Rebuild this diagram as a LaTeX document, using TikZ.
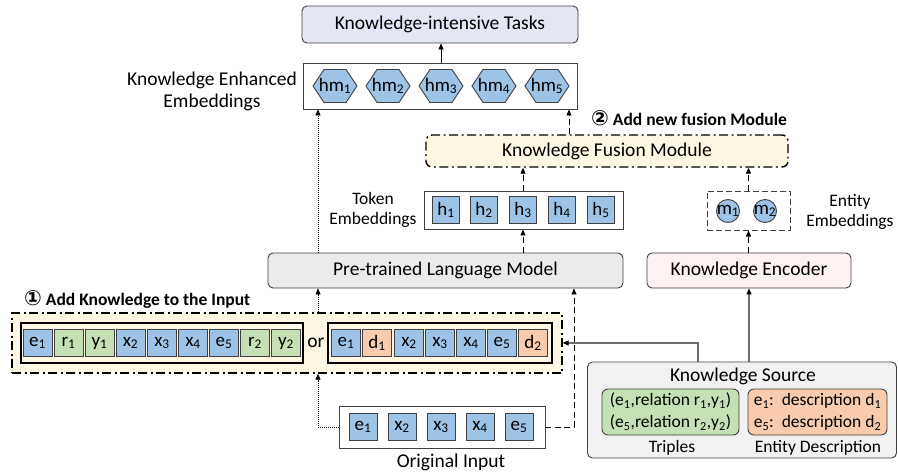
\documentclass[tikz,border=0pt]{standalone}
\usepackage{fontspec}
\setmainfont{Carlito}
\newfontfamily\circfont{DejaVu Sans}
\usetikzlibrary{arrows.meta}

\definecolor{edgegray}{HTML}{404040}
\definecolor{linkgray}{HTML}{6E6E6E}
\definecolor{tokblue}{HTML}{9DC3E6}
\definecolor{tokgreen}{HTML}{C5E0B4}
\definecolor{tokorange}{HTML}{F8CBAD}
\definecolor{taskfill}{HTML}{E3E7F4}
\definecolor{lmfill}{HTML}{EBEBEB}
\definecolor{encfill}{HTML}{FDF1F1}
\definecolor{creamfill}{HTML}{FFF7E3}
\definecolor{srcfill}{HTML}{F2F2F2}

\newcommand{\sub}[1]{\textsubscript{#1}}
\newcommand{\circnum}[1]{{\circfont\fontsize{21}{20}\selectfont #1}}

\begin{document}
\begin{tikzpicture}[x=1pt,y=-1pt,
  font=\fontsize{19.5}{22}\selectfont,
  lbl/.style={font=\fontsize{17.5}{20}\selectfont, align=center, inner sep=0pt},
  txt/.style={inner sep=0pt, font=\fontsize{19}{20}\selectfont},
  bigbox/.style={draw=edgegray, line width=0.9pt, rounded corners=5pt, inner sep=0pt},
  plainbox/.style={draw=edgegray, line width=0.9pt, fill=white, inner sep=0pt},
  tok/.style={draw=edgegray, line width=0.9pt, minimum width=27pt, minimum height=27pt,
              inner sep=0pt, font=\fontsize{19}{20}\selectfont},
  stok/.style={tok, minimum width=29pt},
  hexpath/.style={draw=edgegray, line width=0.9pt, fill=tokblue},
  entcircle/.style={draw=edgegray, line width=0.9pt, fill=tokblue},
  dashdot/.style={line width=1.4pt, dash pattern=on 9pt off 3.5pt on 2pt off 3.5pt},
  arr/.style={-{Triangle[length=6pt,width=5pt]}, line width=0.8pt, black},
  dotline/.style={arr, dash pattern=on 1pt off 1pt},
  dashline/.style={arr, dash pattern=on 6pt off 3.5pt},
  grayline/.style={-{Triangle[length=6pt,width=5pt,black]}, line width=1.2pt, draw=linkgray},
]
\useasboundingbox (0,0) rectangle (898,474);

% ---------- top: tasks and knowledge-enhanced embeddings ----------
\node[bigbox, fill=taskfill, minimum width=276pt, minimum height=37pt] (tasks) at (440,24.5)
  {Knowledge-intensive Tasks};
\node[plainbox, minimum width=274pt, minimum height=46pt] (hmbox) at (440,86) {};
\foreach \i/\x in {1/335,2/388,3/441,4/494,5/547}{
  \draw[hexpath] (\x,86) ++(-22,0) -- ++(11,-16.5) -- ++(22,0) -- ++(11,16.5)
    -- ++(-11,16.5) -- ++(-22,0) -- cycle;
  \node[txt] (hm\i) at (\x,86) {hm\sub{\i}};
}
\node[align=center, inner sep=0pt] (kelbl) at (212,91)
  {Knowledge Enhanced\\Embeddings};

% ---------- knowledge fusion module ----------
\node[draw=black, dashdot, rounded corners=6pt, fill=creamfill,
      minimum width=362pt, minimum height=32pt, inner sep=0pt] (fusion) at (607,151)
  {Knowledge Fusion Module};
\node[anchor=west, inner sep=0pt, font=\bfseries\fontsize{17.5}{20}\selectfont] (step2) at (591,118)
  {\circnum{②} Add new fusion Module};

% ---------- token embeddings ----------
\node[plainbox, minimum width=199pt, minimum height=38pt] (tokbox) at (523.5,210) {};
\foreach \i/\x in {1/446,2/484,3/523,4/562,5/601}
  \node[tok, fill=tokblue] (h\i) at (\x,210) {h\sub{\i}};
\node[lbl] (toklbl) at (373,210) {Token\\Embeddings};

% ---------- entity embeddings ----------
\node[draw=edgegray, line width=1pt, dash pattern=on 6pt off 3pt,
      minimum width=83pt, minimum height=39pt, inner sep=0pt] (entbox) at (748.5,210.5) {};
\draw[entcircle] (728,211) circle (11.5);
\draw[entcircle] (765,211) circle (11.5);
\node[txt] (m1) at (728,211) {m\sub{1}};
\node[txt] (m2) at (765,211) {m\sub{2}};
\node[lbl] (entlbl) at (850,212) {Entity\\Embeddings};

% ---------- encoders ----------
\node[bigbox, fill=lmfill, minimum width=355pt, minimum height=35pt] (lm) at (445.5,270.5)
  {Pre-trained Language Model};
\node[bigbox, fill=encfill, minimum width=204pt, minimum height=35pt] (enc) at (749,270.5)
  {Knowledge Encoder};

% ---------- knowledge-augmented input ----------
\node[anchor=west, inner sep=0pt, font=\bfseries\fontsize{17.5}{20}\selectfont] (step1) at (24,299)
  {\circnum{①} Add Knowledge to the Input};
\node[draw=black, dashdot, fill=creamfill, minimum width=550pt, minimum height=60pt,
      inner sep=0pt] (input) at (287,343) {};
\node[draw=black, line width=1.1pt, fill=creamfill, minimum width=282pt, minimum height=40pt,
      inner sep=0pt] (seqa) at (162,343) {};
\node[draw=black, line width=1.1pt, fill=creamfill, minimum width=224pt, minimum height=40pt,
      inner sep=0pt] (seqb) at (440,343) {};
\foreach \n/\x/\t/\c in {a1/37.5/e\sub{1}/tokblue, a2/68.5/r\sub{1}/tokgreen, a3/99.5/y\sub{1}/tokgreen,
    a4/130.5/x\sub{2}/tokblue, a5/162/x\sub{3}/tokblue, a6/193/x\sub{4}/tokblue,
    a7/224/e\sub{5}/tokblue, a8/255/r\sub{2}/tokgreen, a9/286/y\sub{2}/tokgreen,
    b1/346/e\sub{1}/tokblue, b2/377/d\sub{1}/tokorange, b3/409/x\sub{2}/tokblue,
    b4/440/x\sub{3}/tokblue, b5/471/x\sub{4}/tokblue, b6/502/e\sub{5}/tokblue,
    b7/533/d\sub{2}/tokorange}
  \node[stok, fill=\c] (\n) at (\x,343) {\t};
\node[inner sep=0pt] (orword) at (316,343) {or};

% ---------- original input ----------
\node[plainbox, minimum width=206pt, minimum height=42pt] (orig) at (442,427) {};
\foreach \n/\x/\t in {o1/363/e\sub{1}, o2/402/x\sub{2}, o3/441/x\sub{3}, o4/480/x\sub{4}, o5/519/e\sub{5}}
  \node[tok, fill=tokblue, minimum width=28pt] (\n) at (\x,427) {\t};
\node[inner sep=0pt] (origlbl) at (451,462) {Original Input};

% ---------- knowledge source ----------
\node[bigbox, fill=srcfill, minimum width=309pt, minimum height=96pt] (src) at (742,410) {};
\node[inner sep=0pt] (srclbl) at (743,376) {Knowledge Source};
\node[draw=edgegray, line width=0.9pt, rounded corners=6pt, fill=tokgreen,
      minimum width=137pt, minimum height=46pt, inner sep=0pt, align=center,
      font=\fontsize{17.5}{22}\selectfont] (triples) at (670.5,412)
  {(e\sub{1},relation r\sub{1},y\sub{1})\\(e\sub{5},relation r\sub{2},y\sub{2})};
\node[draw=edgegray, line width=0.9pt, rounded corners=6pt, fill=tokorange,
      minimum width=139pt, minimum height=46pt, inner sep=0pt, align=left,
      font=\fontsize{17.5}{22}\selectfont] (desc) at (817.5,412)
  {e\sub{1}:\ \ description d\sub{1}\\e\sub{5}:\ \ description d\sub{2}};
\node[lbl] (triplbl) at (672,448) {Triples};
\node[lbl] (desclbl) at (818,448) {Entity Description};

% ---------- connectors ----------
\coordinate (dotx) at (318,0);
\coordinate (dashx) at (574,0);
\coordinate (fusx) at (569,0);
\coordinate (srcx) at (698,0);

\draw[arr] (hmbox.north -| hm3) -- (tasks.south -| hm3);
\draw[dashline] (fusion.north -| fusx) -- (hmbox.south -| fusx);
\draw[dashline] (tokbox.north -| h3) -- (fusion.south -| h3);
\draw[dashline] (lm.north -| h3) -- (tokbox.south -| h3);
\draw[dashline] (entbox.north) -- (fusion.south -| entbox.north);
\draw[dashline] (enc.north -| entbox) -- (entbox.south);
\draw[dotline] (lm.north -| dotx) -- (hmbox.south -| dotx);
\draw[dotline] (input.north -| dotx) -- (lm.south -| dotx);
\draw[dotline] (orig.west) -| (input.south -| dotx);
\draw[dashline] (orig.east) -| (lm.south -| dashx);
\draw[grayline] (src.north -| enc) -- (enc.south);
\draw[grayline] (src.north -| srcx) |- (input.east);
\end{tikzpicture}
\end{document}
